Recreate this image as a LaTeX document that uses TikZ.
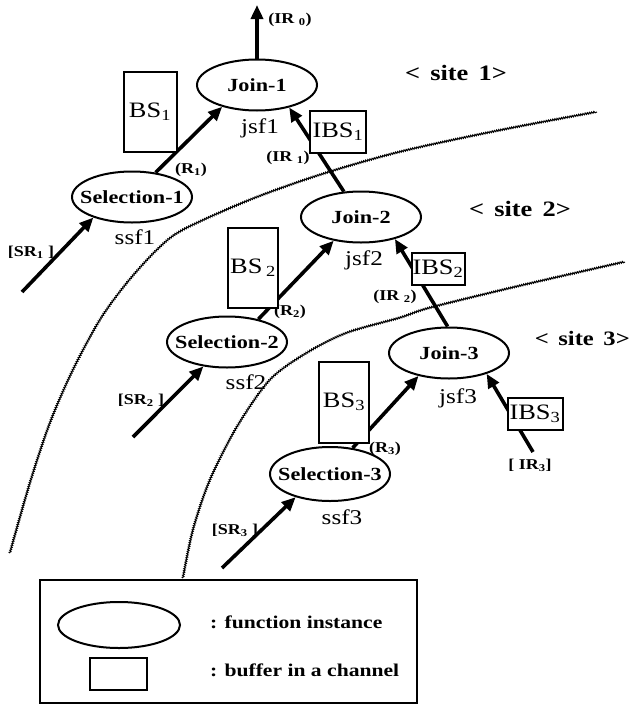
\documentclass[tikz,border=0pt]{standalone}
\usepackage{fontspec}
\setmainfont{Liberation Serif}[FakeStretch=1.2]
\usetikzlibrary{arrows.meta,shapes.geometric,decorations.pathmorphing}

\tikzset{
    fnlabel/.style={font=\bfseries\fontsize{18.5}{18.5}\selectfont, inner sep=0pt},
    func/.style={draw, ellipse, line width=2pt, minimum width=120pt, minimum height=51pt,
        inner sep=0pt, label={[fnlabel]center:#1}},
    buf/.style={draw, fill=white, line width=2pt, inner sep=0pt, font=\fontsize{22}{22}\selectfont},
    flow/.style={line width=3.6pt, -{Triangle[length=14pt,width=12pt]}},
    border/.style={line width=1pt, decorate, decoration={snake, amplitude=0.8pt, segment length=2.2pt}},
    tag/.style={font=\bfseries\fontsize{15}{15}\selectfont, inner sep=0pt},
    fname/.style={font=\fontsize{21}{21}\selectfont, inner sep=0pt},
    site/.style={font=\bfseries\fontsize{22}{22}\selectfont, inner sep=0pt},
    keytext/.style={font=\bfseries\fontsize{18}{18}\selectfont, inner sep=0pt, anchor=west},
}

\begin{document}
\begin{tikzpicture}[x=1pt, y=-1pt]
    \useasboundingbox (0,0) rectangle (632,707);

    % site borders
    \draw [border] plot [smooth] coordinates {(10,553) (30,483) (50,423) (73,370) (100,320) (127,283)
        (157,250) (183,230) (250,200) (320,175) (400,152) (497,131) (597,112)};
    \draw [border] plot [smooth] coordinates {(183,578) (193,530) (210,480) (237,427) (270,380)
        (307,353) (347,333) (400,318) (430,308) (520,286) (625,262)};

    \node [site] (site1) at (456,73) {<\, site\, 1>};
    \node [site] (site2) at (520,209) {<\, site\, 2>};
    \node [site, anchor=east, font=\bfseries\fontsize{20.5}{20.5}\selectfont] (site3) at (630,338) {<\, site\, 3>};

    % function instances
    \node [func=Join-1] (join1) at (257,85) {};
    \node [func=Selection-1] (sel1) at (132,197) {};
    \node [func=Join-2] (join2) at (361,217) {};
    \node [func=Selection-2] (sel2) at (227,342) {};
    \node [func=Join-3] (join3) at (449,353) {};
    \node [func=Selection-3, minimum height=54pt] (sel3) at (330,474) {};

    \node [fname] (jsf1) at (260,128) {jsf1};
    \node [fname] (ssf1) at (135,237) {ssf1};
    \node [fname] (jsf2) at (364,260) {jsf2};
    \node [fname] (ssf2) at (246,382) {ssf2};
    \node [fname] (jsf3) at (458,398) {jsf3};
    \node [fname] (ssf3) at (342,517) {ssf3};

    % inputs and output
    \coordinate (out) at (257,5);
    \coordinate (in1) at (22,292);
    \coordinate (in2) at (133,437);
    \coordinate (in3) at (222,568);
    \coordinate (in4) at (533,452);

    \draw [flow] (join1.north) -- (out);
    \draw [flow] (sel1.46) -- (join1.212);
    \draw [flow] (join2.124) -- (join1.325);
    \draw [flow] (sel2.36) -- (join2.221);
    \draw [flow] (join3.93) -- (join2.327);
    \draw [flow] (sel3.49) -- (join3.217);
    \draw [flow] (in4) -- (join3.331);
    \draw [flow] (in1) -- (sel1.208);
    \draw [flow] (in2) -- (sel2.226);
    \draw [flow] (in3) -- (sel3.214);

    \node [tag] (ir0) at (290,20) {(IR \textsubscript{0})};
    \node [tag] (r1) at (191,170) {(R\textsubscript{1})};
    \node [tag] (ir1) at (288,158) {(IR \textsubscript{1})};
    \node [tag] (r2) at (290,312) {(R\textsubscript{2})};
    \node [tag] (ir2) at (395,297) {(IR \textsubscript{2})};
    \node [tag] (r3) at (385,449) {(R\textsubscript{3})};
    \node [tag] (ir3) at (530,465) {[ IR\textsubscript{3}]};
    \node [tag] (sr1) at (31,252) {[SR\textsubscript{1} ]};
    \node [tag] (sr2) at (141,400) {[SR\textsubscript{2} ]};
    \node [tag] (sr3) at (235,530) {[SR\textsubscript{3} ]};

    % buffers
    \node [buf, minimum width=53pt, minimum height=80pt] (bs1) at (150,112) {BS\textsubscript{1}};
    \node [buf, minimum width=50pt, minimum height=80pt] (bs2) at (253,268) {BS\,\textsubscript{2}};
    \node [buf, minimum width=50pt, minimum height=81pt] (bs3) at (344,402) {BS\textsubscript{3}};
    \node [buf, minimum width=56pt, minimum height=42pt] (ibs1) at (338,132) {IBS\textsubscript{1}};
    \node [buf, minimum width=53pt, minimum height=32pt] (ibs2) at (438,269) {IBS\textsubscript{2}};
    \node [buf, minimum width=55pt, minimum height=32pt] (ibs3) at (535,414) {IBS\textsubscript{3}};

    % legend
    \draw [line width=1.5pt, fill=white] (40,580) rectangle (417,703);
    \node [draw, ellipse, line width=2pt, minimum width=122pt, minimum height=46pt] (keyfunc) at (119,625) {};
    \node [buf, minimum width=57pt, minimum height=32pt] (keybuf) at (118,674) {};
    \node [keytext] (keyfunctxt) at (210,622) {: function instance};
    \node [keytext] (keybuftxt) at (210,670) {: buffer in a channel};
\end{tikzpicture}
\end{document}
